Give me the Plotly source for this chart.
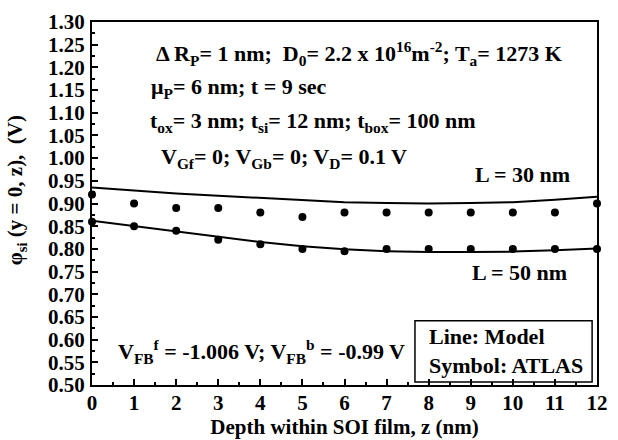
import plotly.graph_objects as go

z = list(range(13))
model_30 = [0.935, 0.928, 0.922, 0.917, 0.912, 0.907, 0.903, 0.901, 0.900, 0.901, 0.903, 0.908, 0.915]
model_50 = [0.862, 0.850, 0.838, 0.826, 0.815, 0.806, 0.799, 0.795, 0.793, 0.793, 0.794, 0.797, 0.801]
atlas_30 = [0.92, 0.90, 0.89, 0.89, 0.88, 0.87, 0.88, 0.88, 0.88, 0.88, 0.88, 0.88, 0.90]
atlas_50 = [0.86, 0.85, 0.84, 0.82, 0.81, 0.80, 0.795, 0.80, 0.80, 0.80, 0.80, 0.80, 0.80]
x_ticks = list(range(13))
y_ticks = [round(0.50 + 0.05 * i, 2) for i in range(17)]

FONT = "Liberation Serif"
fig = go.Figure()
for m in (model_30, model_50):
    fig.add_trace(go.Scatter(x=z, y=m, mode="lines", line=dict(color="black", width=2),
                             showlegend=False, cliponaxis=True))
for a in (atlas_30, atlas_50):
    fig.add_trace(go.Scatter(x=z, y=a, mode="markers", marker=dict(color="black", size=8),
                             showlegend=False, cliponaxis=False))

axis_common = dict(showline=True, linecolor="black", linewidth=2, mirror=True,
                   ticks="inside", ticklen=6, tickwidth=1.5, tickcolor="black",
                   showgrid=False, zeroline=False,
                   tickfont=dict(family=FONT, size=21, color="black"))
fig.update_xaxes(range=[0, 12], tickvals=x_ticks, ticktext=[f"<b>{v}</b>" for v in x_ticks],
                 minor=dict(ticks="inside", ticklen=3, tickwidth=1.5, tickcolor="black", dtick=0.5, tick0=0),
                 title=dict(text="<b>Depth within SOI film, z (nm)</b>",
                            font=dict(family=FONT, size=21, color="black"), standoff=0),
                 ticklabelstandoff=-2,
                 **axis_common)
fig.update_yaxes(range=[0.50, 1.30], tickvals=y_ticks, ticktext=[f"<b>{v:.2f}</b>" for v in y_ticks],
                 minor=dict(ticks="inside", ticklen=3, tickwidth=1.5, tickcolor="black", dtick=0.025, tick0=0.5),
                 ticklabelstandoff=1,
                 **axis_common)

def ann(text, x, y, xanchor="left", size=22, **kw):
    fig.add_annotation(text="<b>" + text + "</b>", x=x, y=y, xref="paper", yref="paper",
                       xanchor=xanchor, yanchor="middle", showarrow=False,
                       font=dict(family=FONT, size=size, color="black"), **kw)

# pixel helpers: plot area x 92..608, y 15..393
def px(xp):
    return (xp - 92) / (608 - 92)
def py(yp):
    return (393 - yp) / (393 - 15)

ann("Δ R<sub>P</sub>= 1 nm;  D<sub>0</sub>= 2.2 x 10<sup>16</sup>m<sup>-2</sup>; T<sub>a</sub>= 1273 K", px(155), py(48))
ann("μ<sub>P</sub>= 6 nm; t = 9 sec", px(150), py(84))
ann("t<sub>ox</sub>= 3 nm; t<sub>si</sub>= 12 nm; t<sub>box</sub>= 100 nm", px(149), py(119))
ann("V<sub>Gf</sub>= 0; V<sub>Gb</sub>= 0; V<sub>D</sub>= 0.1 V", px(160), py(157))
ann("L = 30 nm", px(481), py(174))
ann("L = 50 nm", px(478), py(276))
ann("V<sub>FB</sub><sup>f</sup> = -1.006 V; V<sub>FB</sub><sup>b</sup> = -0.99 V", px(117), py(358))

fig.add_shape(type="rect", xref="paper", yref="paper", x0=px(422), x1=px(603), y0=py(390), y1=py(326),
              line=dict(color="black", width=1.5), fillcolor="white", layer="below")
ann("Line: Model<br>Symbol: ATLAS", px(434), py(358), align="left")

fig.add_annotation(text="<b>φ<sub>si</sub> (y = 0, z),  (V)</b>", x=-0.15, y=py(190), xref="paper", yref="paper",
                   textangle=-90, showarrow=False, xanchor="center", yanchor="middle",
                   font=dict(family=FONT, size=21, color="black"))

fig.update_layout(width=618, height=440, margin=dict(l=92, r=10, t=15, b=47),
                  paper_bgcolor="white", plot_bgcolor="white",
                  font=dict(family=FONT, color="black"))
fig.write_html("out.html")
